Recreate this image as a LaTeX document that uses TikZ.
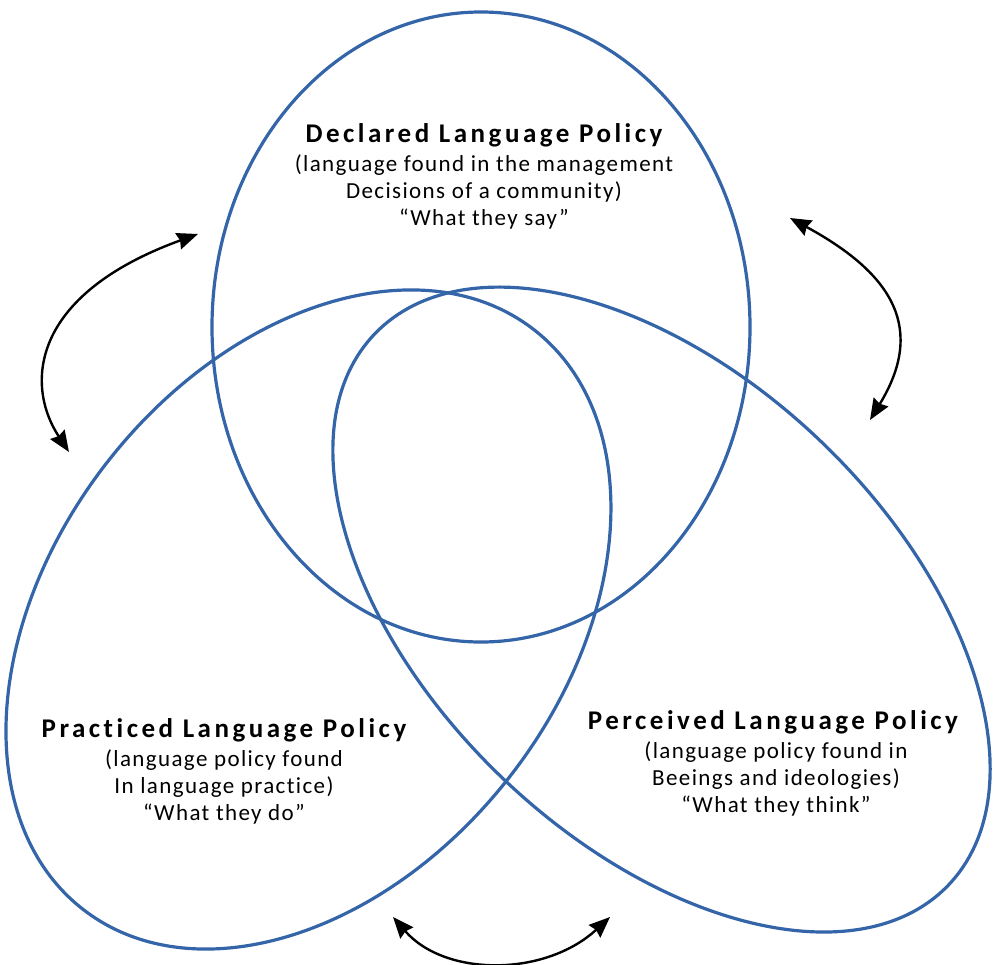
\documentclass[tikz,border=0pt]{standalone}
\usepackage{fontspec}
\setmainfont[Ligatures={TeX,NoCommon}]{Carlito}
\usetikzlibrary{arrows.meta}
\definecolor{ellblue}{RGB}{52,101,168}
\begin{document}
\begin{tikzpicture}[x=1pt,y=-1pt,
  ring/.style={draw=ellblue,line width=3.2pt},
  link/.style={draw=black,line width=2.4pt,{Stealth[length=21pt,width=17pt,inset=2pt]}-{Stealth[length=21pt,width=17pt,inset=2pt]}},
  headtxt/.style={font=\fontsize{27}{30}\selectfont\bfseries\addfontfeatures{LetterSpace=13}, inner sep=0pt},
  bodytxt/.style={font=\fontsize{23}{27}\selectfont\addfontfeatures{LetterSpace=6}, align=center, inner sep=0pt}]
\useasboundingbox (0,0) rectangle (996,964);
% centres
\coordinate (cT) at (481,327);
\coordinate (cL) at (308.5,619.5);
\coordinate (cR) at (661.5,609.5);
% ellipses
\draw[ring] (cT) ellipse [x radius=269, y radius=315];
\draw[ring, rotate around={52.1:(cL)}] (cL) ellipse [x radius=367.2, y radius=255.4];
\draw[ring, rotate around={136.1:(cR)}] (cR) ellipse [x radius=397.8, y radius=231.7];
% texts
\node[headtxt] (hT) at (484,135) {Declared Language Policy};
\node[bodytxt] (bT) at (484,192) {(language found in the management\\Decisions of a community)\\“What they say”};
\node[headtxt] (hL) at (224,730) {Practiced Language Policy};
\node[bodytxt] (bL) at (224,787) {(language policy found\\In language practice)\\“What they do”};
\node[headtxt] (hR) at (773,722) {Perceived Language Policy};
\node[bodytxt] (bR) at (776,779) {(language policy found in\\Beeings and ideologies)\\“What they think”};
% arrow ends
\coordinate (a1) at (198,234);
\coordinate (a2) at (69,452);
\coordinate (b1) at (790,218);
\coordinate (b2) at (870,420);
\coordinate (c1) at (393,917);
\coordinate (c2) at (610,917);
\draw[link] (a1) .. controls (30,295) and (25,385) .. (a2);
\draw[link] (b1) .. controls (895,275) and (925,330) .. (b2);
\draw[link] (c1) .. controls (445,977) and (545,977) .. (c2);
\end{tikzpicture}
\end{document}
